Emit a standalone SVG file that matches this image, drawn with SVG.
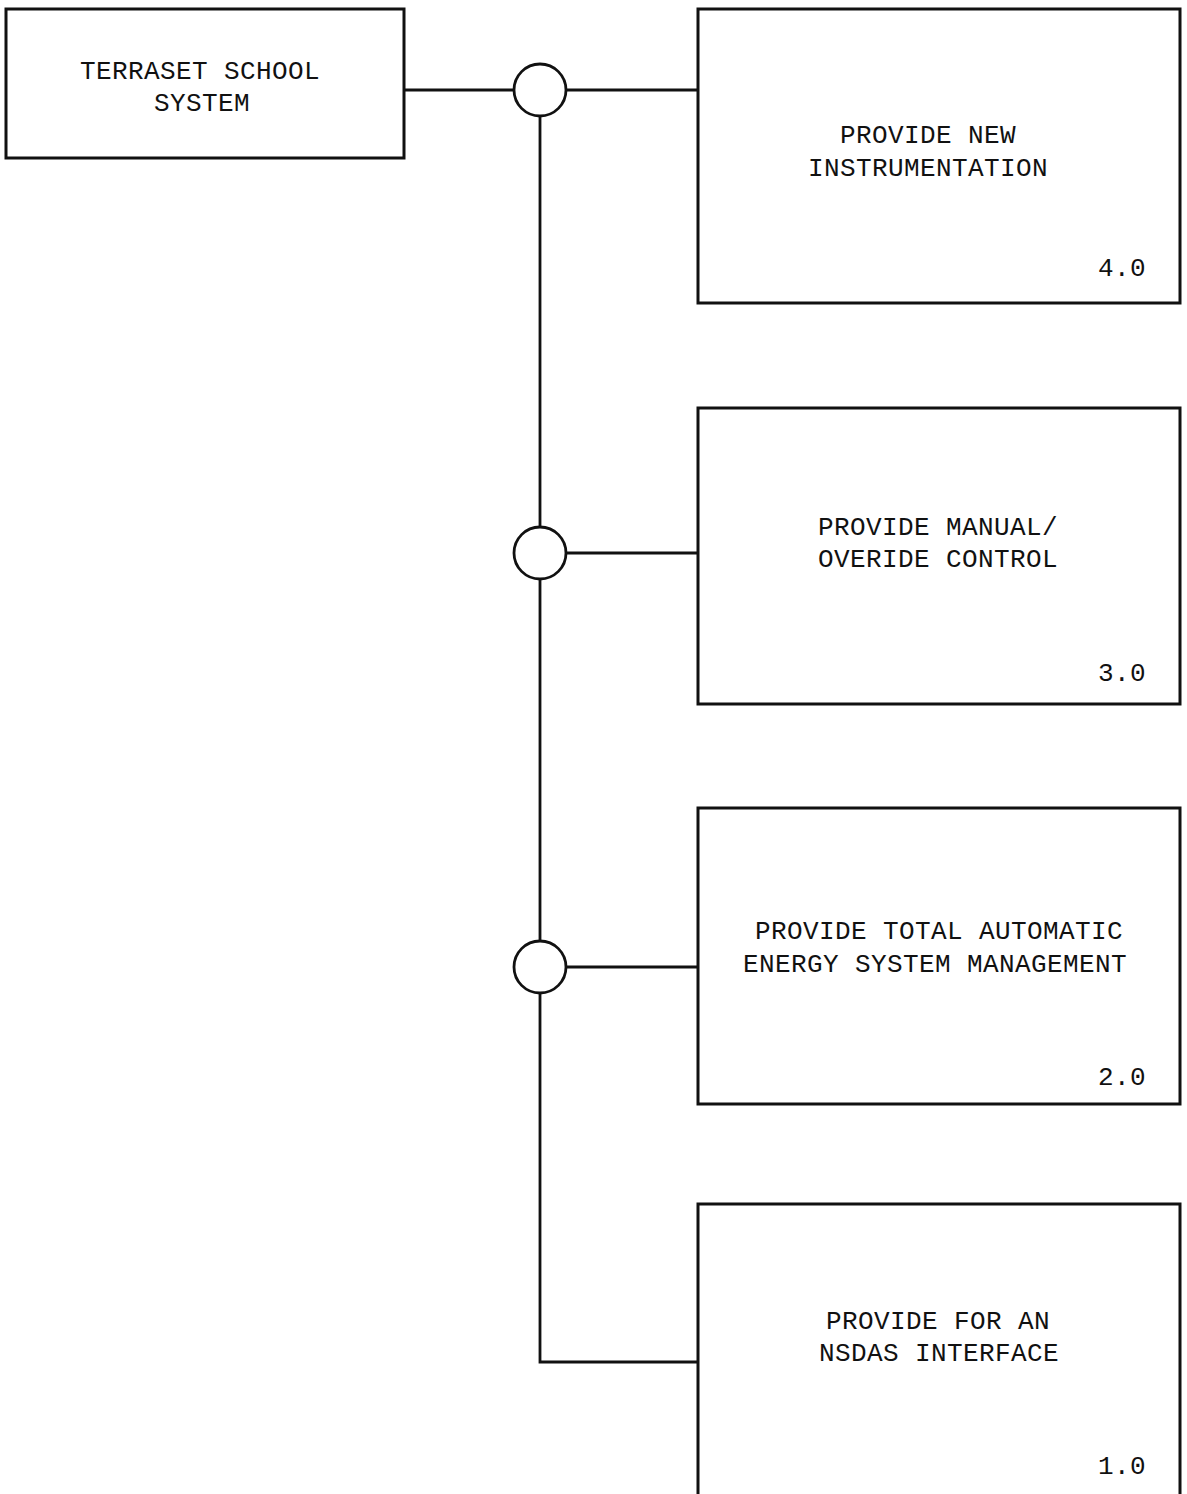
<svg xmlns="http://www.w3.org/2000/svg" width="1187" height="1494" viewBox="0 0 1187 1494">
<style>
.box{fill:#fff;stroke:#111;stroke-width:3}
.conn{fill:none;stroke:#111;stroke-width:2.8}
.jn{fill:#fff;stroke:#111;stroke-width:2.8}
text{font-family:"Liberation Mono","DejaVu Sans Mono",monospace;font-size:26px;letter-spacing:0.4px;fill:#111}
.c{text-anchor:middle}
.r{text-anchor:end}
</style>
<rect width="1187" height="1494" fill="#fff"/>
<g id="connectors">
<path class="conn" d="M404,90 H698"/>
<path class="conn" d="M540,90 V1362 H698"/>
<path class="conn" d="M540,553 H698"/>
<path class="conn" d="M540,967 H698"/>
<circle class="jn" cx="540" cy="90" r="26"/>
<circle class="jn" cx="540" cy="553" r="26"/>
<circle class="jn" cx="540" cy="967" r="26"/>
</g>
<g id="node-root">
<rect class="box" x="6" y="9" width="398" height="149"/>
<text class="c" x="200" y="79">TERRASET SCHOOL</text>
<text class="c" x="202" y="111">SYSTEM</text>
</g>
<g id="node-4">
<rect class="box" x="698" y="9" width="482" height="294"/>
<text class="c" x="928" y="143">PROVIDE NEW</text>
<text class="c" x="928" y="176">INSTRUMENTATION</text>
<text class="r" x="1146" y="276">4.0</text>
</g>
<g id="node-3">
<rect class="box" x="698" y="408" width="482" height="296"/>
<text class="c" x="938" y="535">PROVIDE MANUAL/</text>
<text class="c" x="938" y="567">OVERIDE CONTROL</text>
<text class="r" x="1146" y="681">3.0</text>
</g>
<g id="node-2">
<rect class="box" x="698" y="808" width="482" height="296"/>
<text class="c" x="939" y="939">PROVIDE TOTAL AUTOMATIC</text>
<text class="c" x="935" y="972">ENERGY SYSTEM MANAGEMENT</text>
<text class="r" x="1146" y="1085">2.0</text>
</g>
<g id="node-1">
<rect class="box" x="698" y="1204" width="482" height="300"/>
<text class="c" x="938" y="1329">PROVIDE FOR AN</text>
<text class="c" x="939" y="1361">NSDAS INTERFACE</text>
<text class="r" x="1146" y="1474">1.0</text>
</g>
</svg>
